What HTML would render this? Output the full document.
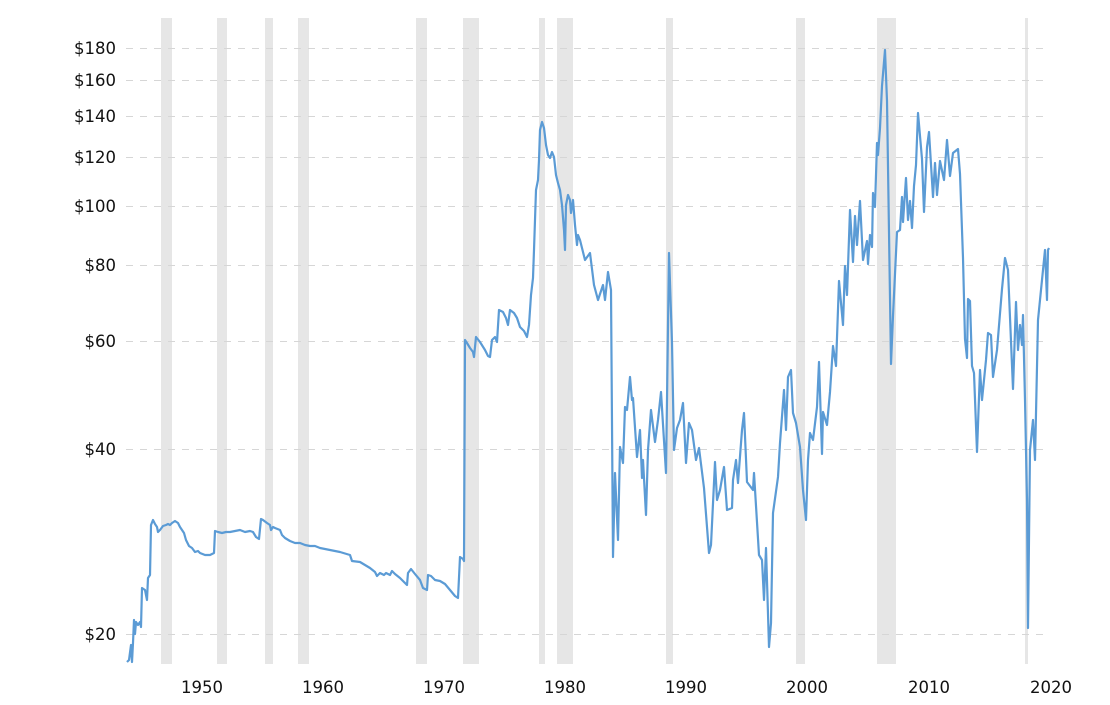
<!DOCTYPE html>
<html><head><meta charset="utf-8"><style>
body{margin:0;background:#fff;}
svg text{font-family:"DejaVu Sans","Liberation Sans",sans-serif;font-size:16.5px;fill:#111;}
</style></head><body>
<svg width="1110" height="700" viewBox="0 0 1110 700" xmlns="http://www.w3.org/2000/svg">
<g fill="#e6e6e6">
<rect x="161" y="18" width="11" height="646"/>
<rect x="217" y="18" width="10" height="646"/>
<rect x="265" y="18" width="8" height="646"/>
<rect x="298" y="18" width="11" height="646"/>
<rect x="416" y="18" width="11" height="646"/>
<rect x="463" y="18" width="16" height="646"/>
<rect x="539" y="18" width="6" height="646"/>
<rect x="557" y="18" width="16" height="646"/>
<rect x="666" y="18" width="7" height="646"/>
<rect x="796" y="18" width="9" height="646"/>
<rect x="877" y="18" width="19" height="646"/>
<rect x="1025" y="18" width="3" height="646"/>
</g>
<g stroke="#d6d6d6" stroke-width="1" stroke-dasharray="7,7">
<line x1="126" x2="1046" y1="48.5" y2="48.5"/>
<line x1="126" x2="1046" y1="80.5" y2="80.5"/>
<line x1="126" x2="1046" y1="116.5" y2="116.5"/>
<line x1="126" x2="1046" y1="157.5" y2="157.5"/>
<line x1="126" x2="1046" y1="206.5" y2="206.5"/>
<line x1="126" x2="1046" y1="265.5" y2="265.5"/>
<line x1="126" x2="1046" y1="341.5" y2="341.5"/>
<line x1="126" x2="1046" y1="449.5" y2="449.5"/>
<line x1="126" x2="1046" y1="634.5" y2="634.5"/>
</g>
<g text-anchor="end">
<text x="116" y="54">$180</text>
<text x="116" y="86">$160</text>
<text x="116" y="122">$140</text>
<text x="116" y="163">$120</text>
<text x="116" y="212">$100</text>
<text x="116" y="271">$80</text>
<text x="116" y="347">$60</text>
<text x="116" y="455">$40</text>
<text x="116" y="640">$20</text>
</g>
<g text-anchor="middle">
<text x="202" y="693">1950</text>
<text x="323" y="693">1960</text>
<text x="444" y="693">1970</text>
<text x="565" y="693">1980</text>
<text x="686" y="693">1990</text>
<text x="807" y="693">2000</text>
<text x="929" y="693">2010</text>
<text x="1051" y="693">2020</text>
</g>
<polyline fill="none" stroke="#5b9bd5" stroke-width="2.2" stroke-linejoin="round" points="
127,662 129,660 131,645 132,662 133,643 134,620 135,634 136,622 138,625 140,622 141,627 142,588 145,590 147,600 148,578 150,575 151,525 153,520 155,524 157,527 158,532 160,530 163,526 166,525 168,524 170,525 172,523 175,521 178,523 180,527 184,533 186,540 189,546 192,548 195,552 198,551 200,553 205,555 210,555 214,553 215,531 218,532 222,533 226,532 230,532 235,531 240,530 245,532 250,531 253,532 256,537 259,539 261,519 263,520 267,523 270,525 271,530 273,527 275,528 280,530 282,535 285,538 290,541 295,543 300,543 305,545 310,546 315,546 320,548 330,550 340,552 350,555 352,561 360,562 365,565 370,568 375,572 377,576 380,573 384,575 386,573 390,575 392,571 395,574 400,578 405,583 407,585 408,573 411,569 415,574 420,580 423,588 427,590 428,575 431,576 435,580 440,581 445,584 450,590 455,596 458,598 460,557 463,559 464,561 465,340
467,343 470,348 473,352 474,357 476,337 480,342 485,350 488,356 490,357 492,340 495,337 497,342 499,310 503,312 506,318 508,325 510,310 514,313 517,318 520,327 524,331 527,337 529,325 531,295 533,278 534,250 536,190 538,180 539,160 540,130 542,122 544,128 546,145 548,155 550,158 552,152 554,157 556,175 558,183 560,190 562,205 564,230 565,250 566,205 568,195 570,200 571,213 573,200 575,225 577,245 578,235 580,240
585,260 590,253 594,285 598,300 603,285 605,300 608,272 611,290 613,557 615,473 618,540 620,447 623,463 625,407 627,410 630,377 632,400 633,398 637,457 640,430 642,478 643,460 646,515 648,450 651,410 655,442 658,420 661,392 666,473 669,253 672,343 674,450 677,428 680,420 683,403 686,463 689,423 692,430 696,460 699,448 704,488 709,553 711,545 715,462 717,500 720,490 724,467 727,510 732,508 733,480 736,460 738,483 742,430 744,413 747,482 753,490 754,473 759,555 762,560 764,600 766,548 769,647 771,623 773,513 778,477 780,443 784,390 786,430 788,377 791,370 793,413 796,423 800,447 803,490 806,520 808,460 810,433 813,440 817,407 819,362 822,454 823,412 827,425 830,392
833,346 836,366 839,281 843,325 845,266 847,295 850,210 853,262 855,216 857,245 860,201 863,260 867,241 868,264 870,235 872,247 873,193 875,207 877,143 878,155 880,128 882,86 885,50 887,101 889,232 891,364 893,316 897,232 900,230 902,197 903,222 906,178 908,220 910,201 912,228 914,186 916,165 918,113 922,159 924,212 927,147 929,132 933,197 935,163 937,195 940,161 944,180 947,140 950,176 953,153 958,149 960,174 963,258 965,339 967,358 968,299 970,301 972,366 974,373 977,452 980,370 982,400 986,360 988,333 991,335 993,377 997,350 1002,289 1005,258 1008,270 1013,389 1016,302 1018,350 1020,325 1022,345 1023,315 1025,400 1027,500 1028,628 1030,450 1033,420 1035,460 1038,320 1042,280 1045,250 1047,300 1048,250 1049,248"/>
</svg>
</body></html>
